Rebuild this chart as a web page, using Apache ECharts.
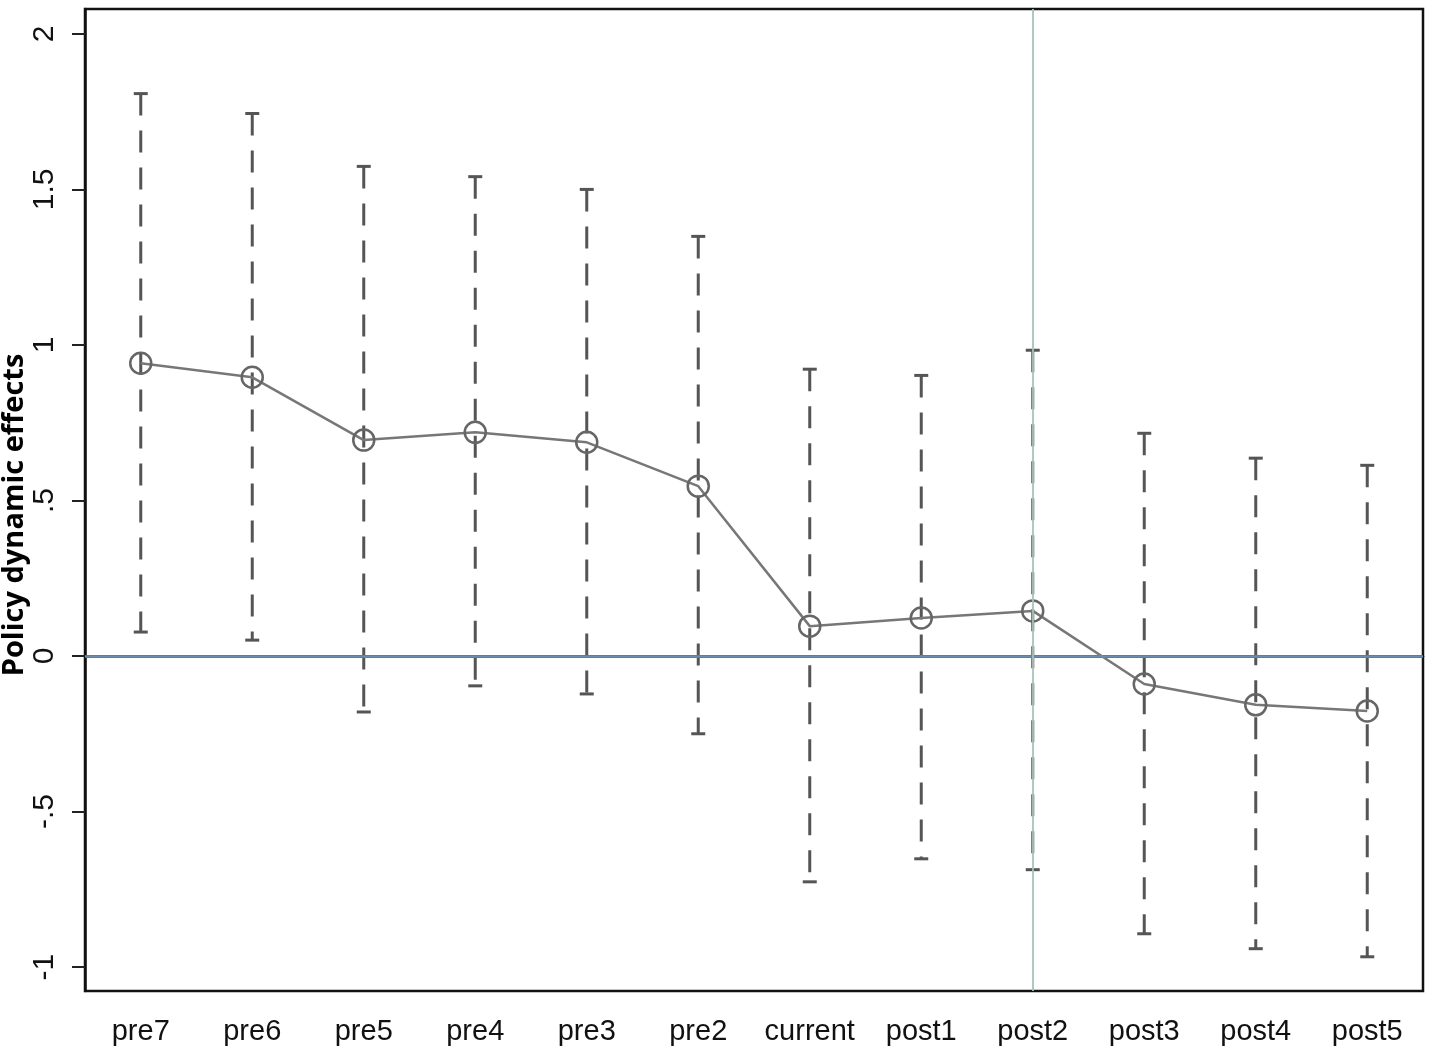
<!DOCTYPE html>
<html><head><meta charset="utf-8">
<script src="https://cdn.jsdelivr.net/npm/echarts@6/dist/echarts.min.js"></script>
<style>html,body{margin:0;padding:0;background:#fff}#c{width:1441px;height:1051px}</style>
</head><body><div id="c"></div>
<script>
const categories = ['pre7','pre6','pre5','pre4','pre3','pre2','current','post1','post2','post3','post4','post5'];
const estimates = [0.941, 0.896, 0.694, 0.719, 0.687, 0.546, 0.096, 0.122, 0.145, -0.090, -0.157, -0.177];
const upperCI = [1.808, 1.744, 1.574, 1.541, 1.500, 1.349, 0.922, 0.902, 0.983, 0.716, 0.636, 0.613];
const lowerCI = [0.077, 0.051, -0.180, -0.096, -0.122, -0.250, -0.726, -0.652, -0.687, -0.893, -0.941, -0.967];
const yTickValues = [-1, -0.5, 0, 0.5, 1, 1.5, 2];
const yTickLabels = ['-1', '-.5', '0', '.5', '1', '1.5', '2'];
const yMin = -1.077, yMax = 2.08;
const eventCategory = 'post2';

const ciData = categories.map((c, i) => [i, lowerCI[i], upperCI[i]]);
const labelMap = {};
yTickValues.forEach((v, i) => { labelMap[v] = yTickLabels[i]; });

const chart = echarts.init(document.getElementById('c'), null, {renderer: 'canvas'});
const FONT = '"Liberation Sans", Arial, Helvetica, sans-serif';
chart.setOption({
  animation: false,
  backgroundColor: '#fff',
  grid: {left: 85, right: 18, top: 9, bottom: 60, show: true, borderColor: '#111', borderWidth: 2.5,
    backgroundColor: 'transparent', containLabel: false, outerBoundsMode: 'none'},
  xAxis: {
    type: 'category',
    data: categories,
    boundaryGap: true,
    axisLine: {lineStyle: {color: '#111', width: 2.5}},
    axisTick: {alignWithLabel: true, interval: 0, length: 15, lineStyle: {color: '#222', width: 2}},
    axisLabel: {interval: 0, color: '#111', fontFamily: FONT, fontSize: 29, margin: 26},
    splitLine: {show: false}
  },
  yAxis: {
    type: 'value',
    min: yMin, max: yMax,
    name: 'Policy dynamic effects',
    nameLocation: 'middle',
    nameRotate: 90,
    nameGap: 56,
    nameMoveOverlap: false,
    nameTextStyle: {color: '#000', fontFamily: '"Open Sans", "Noto Sans", sans-serif', fontSize: 29, fontWeight: 'bold', padding: [0, 30, 0, 0]},
    axisLine: {show: true, lineStyle: {color: '#111', width: 2.5}},
    axisTick: {show: true, length: 13, lineStyle: {color: '#222', width: 2}, customValues: yTickValues},
    axisLabel: {color: '#111', fontFamily: FONT, fontSize: 30, rotate: 90, margin: 25,
      customValues: yTickValues,
      formatter: v => labelMap[v] !== undefined ? labelMap[v] : ''},
    splitLine: {show: false}
  },
  series: [
    {
      type: 'custom',
      name: 'CI',
      data: ciData,
      encode: {x: 0, y: [1, 2]},
      z: 3,
      renderItem: function (params, api) {
        const x = api.value(0);
        const lo = api.coord([x, api.value(1)]);
        const hi = api.coord([x, api.value(2)]);
        const hw = 7;
        const capStyle = {stroke: '#555', lineWidth: 3};
        return {
          type: 'group',
          children: [
            {type: 'line', shape: {x1: hi[0], y1: hi[1], x2: lo[0], y2: lo[1]}, style: {stroke: '#555', lineWidth: 3, lineDash: [22, 15]}},
            {type: 'line', shape: {x1: hi[0] - hw, y1: hi[1], x2: hi[0] + hw, y2: hi[1]}, style: capStyle},
            {type: 'line', shape: {x1: lo[0] - hw, y1: lo[1], x2: lo[0] + hw, y2: lo[1]}, style: capStyle}
          ]
        };
      }
    },
    {
      type: 'line',
      name: 'Estimate',
      data: estimates,
      z: 4,
      symbol: 'circle',
      symbolSize: 21,
      showSymbol: true,
      lineStyle: {color: '#777', width: 2.5},
      itemStyle: {color: 'rgba(255,255,255,0)', borderColor: '#666', borderWidth: 2.5},
      markLine: {
        silent: true,
        symbol: 'none',
        label: {show: false},
        data: [
          {yAxis: 0, lineStyle: {color: '#6b8db0', width: 2.5, type: 'solid'}},
          {xAxis: eventCategory, lineStyle: {color: '#a8c2b9', width: 1.8, type: 'solid'}}
        ]
      }
    }
  ]
});
</script>
</body></html>
